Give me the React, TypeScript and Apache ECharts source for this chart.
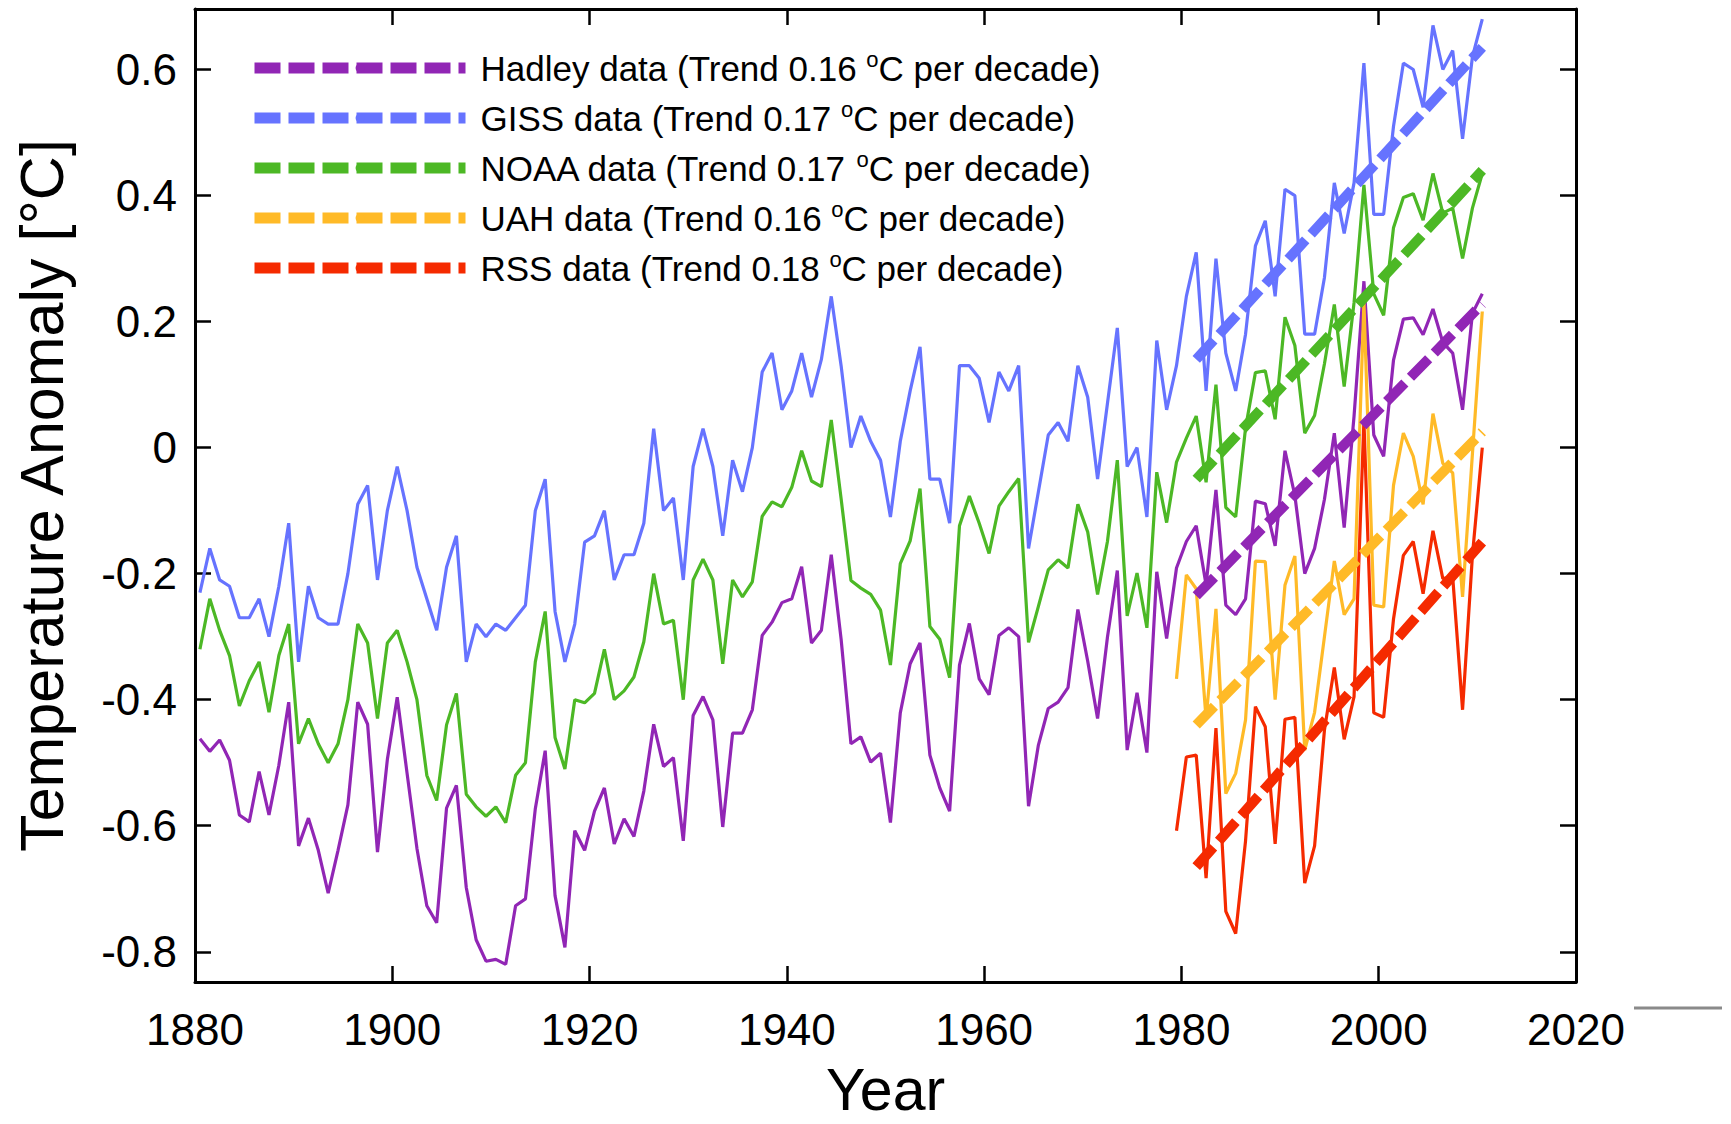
import React, { useEffect, useRef } from 'react';
import * as echarts from 'echarts';

// ---------- data ----------
const surfaceStartYear = 1880;
const satelliteStartYear = 1979;

const hadley = [
  -0.462, -0.482, -0.464, -0.496, -0.583, -0.594, -0.514, -0.583, -0.504, -0.404,
  -0.632, -0.588, -0.639, -0.707, -0.639, -0.567, -0.404, -0.439, -0.642, -0.495,
  -0.396, -0.517, -0.636, -0.727, -0.754, -0.572, -0.536, -0.698, -0.781, -0.815,
  -0.812, -0.82, -0.727, -0.716, -0.573, -0.481, -0.711, -0.793, -0.608, -0.639,
  -0.577, -0.54, -0.629, -0.589, -0.617, -0.545, -0.439, -0.506, -0.492, -0.624,
  -0.425, -0.395, -0.432, -0.602, -0.453, -0.453, -0.416, -0.298, -0.277, -0.246,
  -0.24, -0.189, -0.31, -0.29, -0.17, -0.304, -0.47, -0.459, -0.499, -0.485,
  -0.595, -0.421, -0.343, -0.31, -0.488, -0.54, -0.577, -0.345, -0.279, -0.367,
  -0.392, -0.298, -0.286, -0.3, -0.569, -0.472, -0.414, -0.404, -0.381, -0.257,
  -0.339, -0.43, -0.301, -0.195, -0.48, -0.389, -0.484, -0.197, -0.303, -0.191,
  -0.149, -0.124, -0.218, -0.067, -0.25, -0.265, -0.24, -0.085, -0.089, -0.156,
  -0.005, -0.076, -0.2, -0.16, -0.082, 0.023, -0.127, 0.05, 0.264, 0.02,
  -0.014, 0.139, 0.204, 0.206, 0.179, 0.22, 0.167, 0.15, 0.06, 0.213,
  0.244,
];

const giss = [
  -0.23, -0.16, -0.21, -0.22, -0.27, -0.27, -0.24, -0.3, -0.22, -0.12,
  -0.34, -0.22, -0.27, -0.28, -0.28, -0.2, -0.09, -0.06, -0.21, -0.1,
  -0.03, -0.1, -0.19, -0.24, -0.29, -0.19, -0.14, -0.34, -0.28, -0.3,
  -0.28, -0.29, -0.27, -0.25, -0.1, -0.05, -0.26, -0.34, -0.28, -0.15,
  -0.14, -0.1, -0.21, -0.17, -0.17, -0.12, 0.03, -0.1, -0.08, -0.21,
  -0.03, 0.03, -0.03, -0.14, -0.02, -0.07, 0.0, 0.12, 0.15, 0.06,
  0.09, 0.15, 0.08, 0.14, 0.24, 0.13, 0.0, 0.05, 0.01, -0.02,
  -0.11, 0.01, 0.09, 0.16, -0.05, -0.05, -0.12, 0.13, 0.13, 0.11,
  0.04, 0.12, 0.09, 0.13, -0.16, -0.07, 0.02, 0.04, 0.01, 0.13,
  0.08, -0.05, 0.07, 0.19, -0.03, 0.0, -0.11, 0.17, 0.06, 0.13,
  0.24, 0.31, 0.09, 0.3, 0.15, 0.09, 0.18, 0.32, 0.36, 0.24,
  0.41, 0.4, 0.18, 0.18, 0.27, 0.42, 0.34, 0.42, 0.61, 0.37,
  0.37, 0.51, 0.61, 0.6, 0.54, 0.67, 0.6, 0.63, 0.49, 0.62,
  0.68,
];

const noaa = [
  -0.32, -0.24, -0.29, -0.33, -0.41, -0.37, -0.34, -0.42, -0.33, -0.28,
  -0.47, -0.43, -0.47, -0.5, -0.47, -0.4, -0.28, -0.31, -0.43, -0.31,
  -0.29, -0.34, -0.4, -0.52, -0.56, -0.44, -0.39, -0.55, -0.57, -0.585,
  -0.57, -0.595, -0.52, -0.5, -0.34, -0.26, -0.46, -0.51, -0.4, -0.405,
  -0.39, -0.32, -0.4, -0.386, -0.364, -0.308, -0.2, -0.28, -0.274, -0.4,
  -0.21, -0.177, -0.21, -0.343, -0.21, -0.237, -0.213, -0.109, -0.086, -0.094,
  -0.063, -0.005, -0.053, -0.062, 0.044, -0.081, -0.211, -0.223, -0.233, -0.258,
  -0.345, -0.184, -0.148, -0.065, -0.284, -0.304, -0.365, -0.124, -0.077, -0.12,
  -0.168, -0.093, -0.07, -0.049, -0.309, -0.252, -0.194, -0.178, -0.191, -0.09,
  -0.134, -0.233, -0.149, -0.02, -0.267, -0.199, -0.286, -0.039, -0.119, -0.023,
  0.015, 0.05, -0.055, 0.1, -0.095, -0.11, 0.031, 0.119, 0.122, 0.045,
  0.207, 0.162, 0.023, 0.051, 0.133, 0.227, 0.097, 0.23, 0.417, 0.244,
  0.21, 0.349, 0.397, 0.403, 0.361, 0.435, 0.372, 0.38, 0.3, 0.38,
  0.435,
];

const uah = [
  -0.367, -0.202, -0.224, -0.431, -0.256, -0.549, -0.517, -0.432, -0.18, -0.181,
  -0.4, -0.218, -0.172, -0.48, -0.42, -0.3, -0.18, -0.265, -0.24, 0.23,
  -0.25, -0.253, -0.06, 0.023, -0.014, -0.09, 0.054, -0.025, -0.04, -0.237,
  -0.01, 0.216,
];

const rss = [
  -0.608, -0.491, -0.488, -0.683, -0.445, -0.736, -0.771, -0.624, -0.411, -0.443,
  -0.629, -0.431, -0.428, -0.691, -0.632, -0.448, -0.349, -0.463, -0.395, 0.043,
  -0.421, -0.428, -0.272, -0.171, -0.149, -0.232, -0.132, -0.208, -0.205, -0.416,
  -0.171, 0.0,
];

// linear trends: [value at start year, value at end year]
const trendYears = [1981, 2010];
const hadleyTrend = [-0.235, 0.228];
const gissTrend = [0.14, 0.635];
const noaaTrend = [-0.05, 0.44];
const uahTrend = [-0.44, 0.025];
const rssTrend = [-0.665, -0.15];

const legendLabels = [
  'Hadley data (Trend 0.16 oC per decade)',
  'GISS data (Trend 0.17 oC per decade)',
  'NOAA data (Trend 0.17 oC per decade)',
  'UAH data (Trend 0.16 oC per decade)',
  'RSS data (Trend 0.18 oC per decade)',
];

const yTickValues = [-0.8, -0.6, -0.4, -0.2, 0, 0.2, 0.4, 0.6];
const xAxisTitle = 'Year';
const yAxisTitle = 'Temperature Anomaly [°C]';

// ---------- styling ----------
const FONT = 'Liberation Sans, Arial, Helvetica, sans-serif';
const colors = {
  hadley: '#9126B5',
  giss: '#6673FF',
  noaa: '#4CB825',
  uah: '#FFBA27',
  rss: '#F52A00',
};
const MID = 0.5; // annual means are drawn at mid-year
const DASH = [26, 8];

function toPoints(values: number[], start: number) {
  return values.map((v, i) => [start + i + MID, v]);
}
function trendPoints(values: number[]) {
  return values.map((v, i) => [trendYears[i] + MID, v]);
}

function dataSeries(name: string, values: number[], start: number, color: string) {
  return {
    name,
    type: 'line',
    data: toPoints(values, start),
    symbol: 'none',
    lineStyle: { color, width: 3.2 },
    itemStyle: { color },
    z: 2,
  };
}
function trendSeries(name: string, values: number[], color: string) {
  return {
    name,
    type: 'line',
    data: trendPoints(values),
    symbol: 'none',
    lineStyle: { color, width: 10, type: DASH },
    itemStyle: { color },
    z: 3,
  };
}

const axisLineStyle = { color: '#000', width: 3 };
const tickStyle = { color: '#000', width: 2.5 };

export default function App() {
  const ref = useRef<HTMLDivElement>(null);
  useEffect(() => {
    if (!ref.current) return;
    const chart = echarts.init(ref.current, null, { renderer: 'svg' });
    const option = {
      animation: false,
      backgroundColor: '#fff',
      grid: {
        left: 195,
        right: 155,
        top: 9,
        bottom: 142,
        containLabel: false,
        outerBoundsMode: 'none',
      },
      legend: {
        data: legendLabels,
        orient: 'vertical',
        left: 249,
        top: 48,
        padding: 0,
        itemWidth: 211,
        itemHeight: 11,
        itemGap: 12.5,
        selectedMode: false,
        lineStyle: { width: 11, type: DASH },
        formatter: (name: string) => {
          const idx = name.indexOf(' oC');
          return `{t|${name.slice(0, idx + 1)}}{s|o}{t|${name.slice(idx + 2)}}`;
        },
        textStyle: {
          fontFamily: FONT,
          color: '#000',
          padding: [0, 0, 0, 10],
          rich: {
            t: { fontFamily: FONT, fontSize: 35, lineHeight: 40, color: '#000' },
            s: { fontFamily: FONT, fontSize: 22, lineHeight: 22, verticalAlign: 'top', color: '#000' },
          },
        },
      },
      xAxis: [
        {
          type: 'value',
          position: 'bottom',
          min: 1880,
          max: 2020,
          interval: 20,
          name: xAxisTitle,
          nameLocation: 'middle',
          nameGap: 78,
          nameTextStyle: { fontFamily: FONT, fontSize: 59, lineHeight: 59, color: '#000' },
          axisLine: { show: true, onZero: false, lineStyle: axisLineStyle },
          axisTick: { show: true, inside: true, length: 16, lineStyle: tickStyle },
          axisLabel: {
            fontFamily: FONT,
            fontSize: 44,
            color: '#000',
            margin: 25,
            formatter: (v: number) => String(v),
          },
          splitLine: { show: false },
        },
        {
          type: 'value',
          position: 'top',
          min: 1880,
          max: 2020,
          interval: 20,
          axisLine: { show: true, onZero: false, lineStyle: axisLineStyle },
          axisTick: { show: true, inside: true, length: 16, lineStyle: tickStyle },
          axisLabel: { show: false },
          splitLine: { show: false },
        },
      ],
      yAxis: [
        {
          type: 'value',
          position: 'left',
          min: -0.848,
          max: 0.696,
          name: yAxisTitle,
          nameLocation: 'middle',
          nameGap: 123,
          nameTextStyle: { fontFamily: FONT, fontSize: 61, color: '#000' },
          axisLine: { show: true, onZero: false, lineStyle: axisLineStyle },
          axisTick: { show: true, inside: true, length: 16, lineStyle: tickStyle, customValues: yTickValues },
          axisLabel: {
            fontFamily: FONT,
            fontSize: 44,
            color: '#000',
            margin: 18,
            customValues: yTickValues,
            formatter: (v: number) => (Math.abs(v) < 1e-9 ? '0' : v.toFixed(1)),
          },
          splitLine: { show: false },
        },
        {
          type: 'value',
          position: 'right',
          min: -0.848,
          max: 0.696,
          axisLine: { show: true, onZero: false, lineStyle: axisLineStyle },
          axisTick: { show: true, inside: true, length: 16, lineStyle: tickStyle, customValues: yTickValues },
          axisLabel: { show: false, customValues: yTickValues },
          splitLine: { show: false },
        },
      ],
      graphic: [
        {
          type: 'line',
          shape: { x1: 1634, y1: 1008, x2: 1722, y2: 1008 },
          style: { stroke: '#8a8a8a', lineWidth: 3 },
          silent: true,
        },
      ],
      series: [
        dataSeries('Hadley', hadley, surfaceStartYear, colors.hadley),
        dataSeries('GISS', giss, surfaceStartYear, colors.giss),
        dataSeries('NOAA', noaa, surfaceStartYear, colors.noaa),
        dataSeries('UAH', uah, satelliteStartYear, colors.uah),
        dataSeries('RSS', rss, satelliteStartYear, colors.rss),
        trendSeries(legendLabels[0], hadleyTrend, colors.hadley),
        trendSeries(legendLabels[1], gissTrend, colors.giss),
        trendSeries(legendLabels[2], noaaTrend, colors.noaa),
        trendSeries(legendLabels[3], uahTrend, colors.uah),
        trendSeries(legendLabels[4], rssTrend, colors.rss),
      ],
    };
    chart.setOption(option as any);
    return () => chart.dispose();
  }, []);
  return (
    <div
      ref={ref}
      style={{ position: 'fixed', left: 0, top: 0, width: 1731, height: 1124, background: '#fff' }}
    />
  );
}
